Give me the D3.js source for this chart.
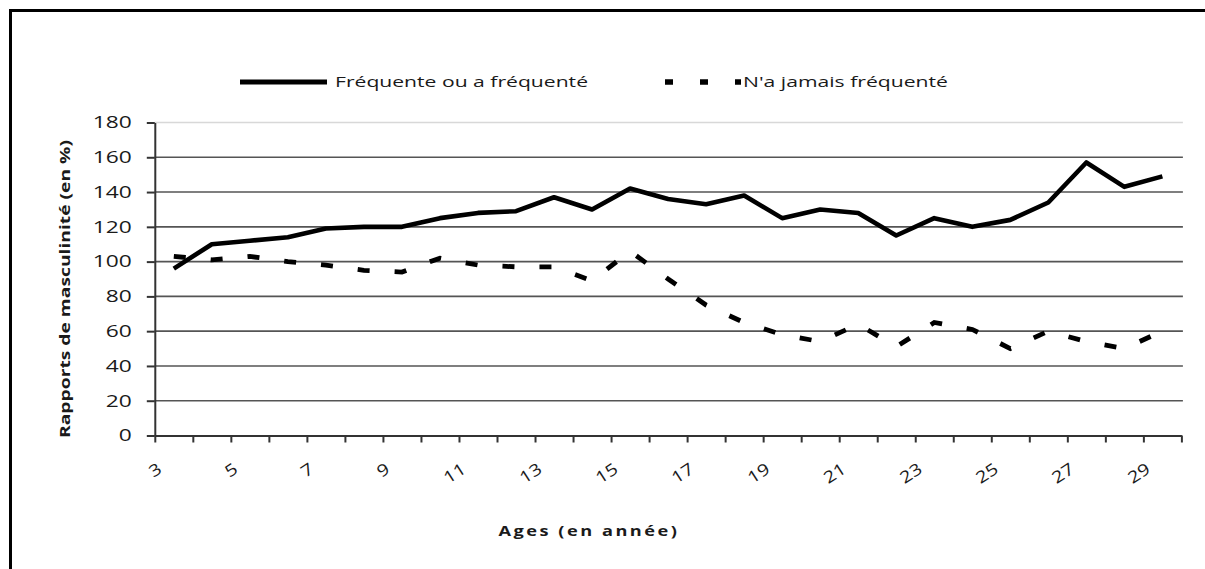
<!DOCTYPE html>
<html>
<head>
<meta charset="utf-8">
<script src="https://cdn.jsdelivr.net/npm/d3@7"></script>
<style>
  html, body { margin: 0; padding: 0; background: #fff; }
  svg { display: block; }
  text { font-family: "Open Sans", "Noto Sans", sans-serif; fill: #1a1a1a; }
</style>
</head>
<body>
<svg id="chart" width="1205" height="569"></svg>
<script>
// ---- Data ----
const ages = [3,4,5,6,7,8,9,10,11,12,13,14,15,16,17,18,19,20,21,22,23,24,25,26,27,28,29];
const frequente = [96,110,112,114,119,120,120,125,128,129,137,130,142,136,133,138,125,130,128,115,125,120,124,134,157,143,149];
const jamais = [103,101,103,100,98,95,94,102,98,97,97,89,106,90,75,65,58,54,64,51,65,61,50,60,54,50,60];
const yTicks = [0,20,40,60,80,100,120,140,160,180];
const xLabels = [3,5,7,9,11,13,15,17,19,21,23,25,27,29];
const seriesNames = ["Fréquente ou a fréquenté", "N'a jamais fréquenté"];
const xTitle = "Ages (en année)";
const yTitle = "Rapports de masculinité (en %)";

(function () {
// ---- Layout ----
const svg = d3.select("#chart");
const pLeft = 154.8, pRight = 1181.4, pTop = 122.5, pBottom = 435.5;

function stretch(sel, k) {
  sel.each(function () {
    const w = this.getComputedTextLength();
    this.setAttribute("textLength", w * k);
    this.setAttribute("lengthAdjust", "spacingAndGlyphs");
  });
}

// frame
svg.append("path")
  .attr("d", "M10.5,569 V10.5 H1205")
  .attr("fill", "none").attr("stroke", "#000").attr("stroke-width", 3);

const x = d3.scaleBand().domain(ages).range([pLeft, pRight]).padding(0);
const xb = d3.scaleLinear().domain([0, ages.length]).range([pLeft, pRight]);
const y = d3.scaleLinear().domain([0, 180]).range([pBottom, pTop]);
const cx = d => x(d) + x.bandwidth() / 2;

// gridlines
svg.append("g").selectAll("line").data(yTicks.filter(d => d > 0)).join("line")
  .attr("x1", pLeft).attr("x2", pRight + 1.5)
  .attr("y1", d => y(d)).attr("y2", d => y(d))
  .attr("stroke", d => d === 180 ? "#d8d8d8" : "#555")
  .attr("stroke-width", 1.6);

// y axis
const yAxis = svg.append("g").attr("transform", `translate(${pLeft},0)`)
  .call(d3.axisLeft(y).tickValues(yTicks).tickSize(8).tickPadding(15).tickSizeOuter(0));
yAxis.select(".domain").attr("stroke", "#333").attr("stroke-width", 2);
yAxis.selectAll(".tick line").attr("stroke", "#333").attr("stroke-width", 2);
yAxis.selectAll("text").attr("font-size", 16.5).attr("fill", "#1a1a1a")
  .attr("font-family", "\"Open Sans\", sans-serif");
stretch(yAxis.selectAll("text"), 1.38);

// x axis (ticks between categories)
const xAxis = svg.append("g").attr("transform", `translate(0,${pBottom})`)
  .call(d3.axisBottom(xb).tickValues(d3.range(0, ages.length + 1)).tickSize(7).tickFormat("").tickSizeOuter(0));
xAxis.select(".domain").attr("stroke", "#333").attr("stroke-width", 2);
xAxis.selectAll(".tick line").attr("stroke", "#333").attr("stroke-width", 2);

// x labels (rotated)
const xl = svg.append("g").selectAll("text").data(xLabels).join("text")
  .attr("text-anchor", "end")
  .attr("font-size", 16.5)
  .attr("dy", "0.35em")
  .attr("transform", d => `translate(${cx(d) - 14},${467}) rotate(-33)`)
  .text(d => d);
stretch(xl, 1.2);

// lines
const line = d3.line().x((d, i) => cx(ages[i])).y(d => y(d));
svg.append("path").datum(frequente)
  .attr("d", line).attr("fill", "none").attr("stroke", "#000")
  .attr("stroke-width", 4.6).attr("stroke-linejoin", "round");
svg.append("path").datum(jamais)
  .attr("d", line).attr("fill", "none").attr("stroke", "#000")
  .attr("stroke-width", 4.8).attr("stroke-dasharray", "12,25");

// legend
const ly = 82;
svg.append("line").attr("x1", 240).attr("x2", 327).attr("y1", ly).attr("y2", ly)
  .attr("stroke", "#000").attr("stroke-width", 5);
svg.append("text").attr("x", 335).attr("y", ly).attr("dy", "0.35em")
  .attr("font-size", 15).attr("textLength", 253).attr("lengthAdjust", "spacingAndGlyphs")
  .text(seriesNames[0]);
svg.append("line").attr("x1", 665).attr("x2", 741).attr("y1", ly).attr("y2", ly)
  .attr("stroke", "#000").attr("stroke-width", 5.5).attr("stroke-dasharray", "8,27");
svg.append("text").attr("x", 743).attr("y", ly).attr("dy", "0.35em")
  .attr("font-size", 15).attr("textLength", 205).attr("lengthAdjust", "spacingAndGlyphs")
  .text(seriesNames[1]);

// axis titles
svg.append("text").attr("x", 589).attr("y", 531).attr("dy", "0.35em")
  .attr("text-anchor", "middle").attr("font-size", 14.5).attr("font-weight", "bold")
  .attr("letter-spacing", 2)
  .attr("textLength", 181).attr("lengthAdjust", "spacingAndGlyphs")
  .text(xTitle);
svg.append("text").attr("transform", "translate(65,289) rotate(-90)").attr("dy", "0.35em")
  .attr("text-anchor", "middle").attr("font-size", 15).attr("font-weight", "bold")
  .attr("textLength", 298).attr("lengthAdjust", "spacingAndGlyphs")
  .text(yTitle);
})();
</script>
</body>
</html>
